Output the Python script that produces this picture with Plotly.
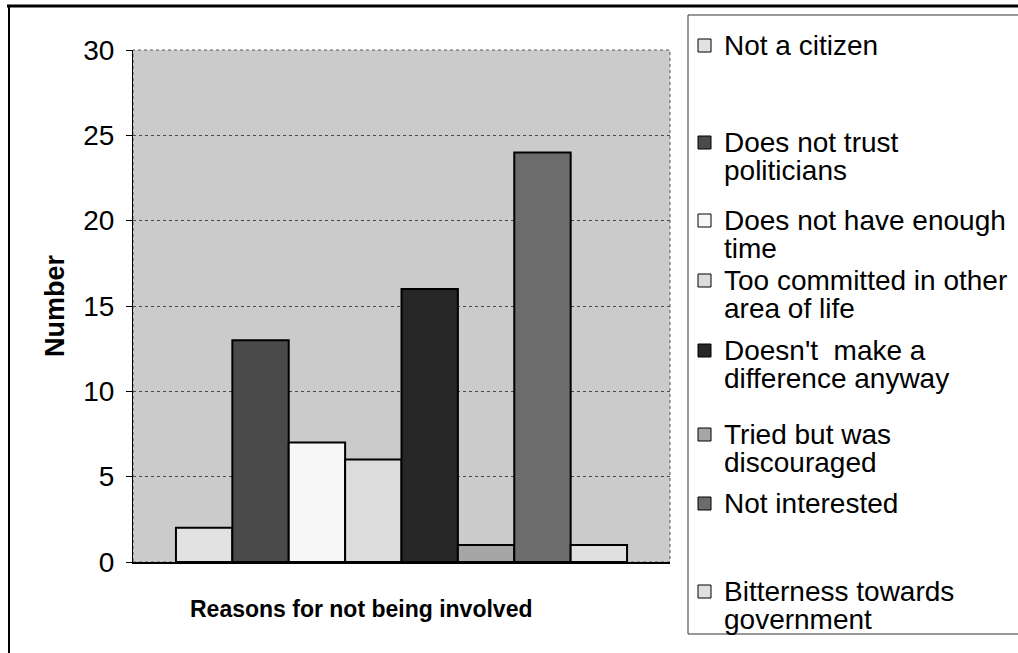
import plotly.graph_objects as go

# Survey answers: reasons given for not being politically involved
category = ["Reasons for not being involved"]
reasons = [
    "Not a citizen",
    "Does not trust politicians",
    "Does not have enough time",
    "Too committed in other area of life",
    "Doesn't  make a difference anyway",
    "Tried but was discouraged",
    "Not interested",
    "Bitterness towards government",
]
counts = [2, 13, 7, 6, 16, 1, 24, 1]

# How each legend label wraps
legend_lines = [
    ["Not a citizen"],
    ["Does not trust", "politicians"],
    ["Does not have enough", "time"],
    ["Too committed in other", "area of life"],
    ["Doesn't  make a", "difference anyway"],
    ["Tried but was", "discouraged"],
    ["Not interested"],
    ["Bitterness towards", "government"],
]
y_ticks = [0, 5, 10, 15, 20, 25, 30]

fills = ["#e2e2e2", "#4a4a4a", "#f7f7f7", "#dcdcdc",
         "#262626", "#a6a6a6", "#6c6c6c", "#e0e0e0"]

W, H = 1018, 653
L, R, T, B = 133, 670, 50, 562  # plot area in pixels


def px(x):
    return (x - L) / (R - L)


def py(y):
    return (B - y) / (B - T)


FONT = "Liberation Sans, Arial, sans-serif"

fig = go.Figure()
for name, val, col in zip(reasons, counts, fills):
    fig.add_trace(go.Bar(
        x=category, y=[val], name=name,
        marker=dict(color=col, line=dict(color="black", width=2)),
        showlegend=False,
    ))

shapes = []
annotations = []

# Outer chart frame (top and left edges)
shapes.append(dict(type="line", xref="paper", yref="paper",
                   x0=px(7), x1=px(W), y0=py(6), y1=py(6),
                   line=dict(color="black", width=3)))
shapes.append(dict(type="line", xref="paper", yref="paper",
                   x0=px(9), x1=px(9), y0=py(6), y1=py(H),
                   line=dict(color="black", width=2)))

# Plot area outline (top / right)
shapes.append(dict(type="rect", xref="paper", yref="paper",
                   x0=0, x1=1, y0=0, y1=1, layer="below",
                   line=dict(color="#555555", width=1, dash="dot")))

# Legend box, open on the right: one path for top, left and bottom edges
lg_left, lg_top, lg_bot, lg_right = 688, 15, 634, W + 5


def to_paper_path(points):
    return "M " + " L ".join(f"{px(x):.5f},{py(y):.5f}" for x, y in points)


shapes.append(dict(type="path", xref="paper", yref="paper",
                   path=to_paper_path([(lg_right, lg_top), (lg_left, lg_top),
                                       (lg_left, lg_bot), (lg_right, lg_bot)]),
                   line=dict(color="#333333", width=1)))

# Legend rows: first-line centre of each entry
row_y = [45, 142, 220, 280, 350, 434, 503, 591]
line_step = 28
for lines, col, y0 in zip(legend_lines, fills, row_y):
    shapes.append(dict(type="rect", xref="paper", yref="paper",
                       x0=px(698), x1=px(711), y0=py(y0 - 6), y1=py(y0 + 7),
                       fillcolor=col, line=dict(color="black", width=1)))
    for i, txt in enumerate(lines):
        annotations.append(dict(
            text=txt, xref="paper", yref="paper",
            x=px(722), y=py(y0 + i * line_step),
            xanchor="left", yanchor="middle", showarrow=False,
            font=dict(family=FONT, size=28, color="black"),
        ))

# Axis titles
annotations.append(dict(
    text="<b>Number</b>", xref="paper", yref="paper",
    x=px(55), y=py(305), textangle=-90,
    xanchor="center", yanchor="middle", showarrow=False,
    font=dict(family=FONT, size=27, color="black"),
))
annotations.append(dict(
    text="<b>" + category[0] + "</b>", xref="paper", yref="paper",
    x=px(361), y=py(609),
    xanchor="center", yanchor="middle", showarrow=False,
    font=dict(family=FONT, size=23, color="black"),
))

fig.update_layout(
    width=W, height=H, autosize=False,
    margin=dict(l=L, r=W - R, t=T, b=H - B, pad=0),
    paper_bgcolor="white",
    plot_bgcolor="#cbcbcb",
    barmode="group", bargap=0.16, bargroupgap=0,
    font=dict(family=FONT, size=26, color="black"),
    shapes=shapes, annotations=annotations,
    showlegend=False,
)
fig.update_xaxes(showticklabels=False, ticks="", showgrid=False,
                 showline=True, linecolor="black", linewidth=2,
                 zeroline=False)
fig.update_yaxes(range=[0, 30], tickvals=y_ticks, ticks="outside",
                 ticklen=6, tickcolor="black", tickwidth=1,
                 showline=True, linecolor="black", linewidth=1,
                 gridcolor="#4a4a4a", griddash="dot", gridwidth=1,
                 zeroline=False, ticklabelstandoff=6,
                 tickfont=dict(family=FONT, size=28, color="black"))

fig.write_html("out.html")
